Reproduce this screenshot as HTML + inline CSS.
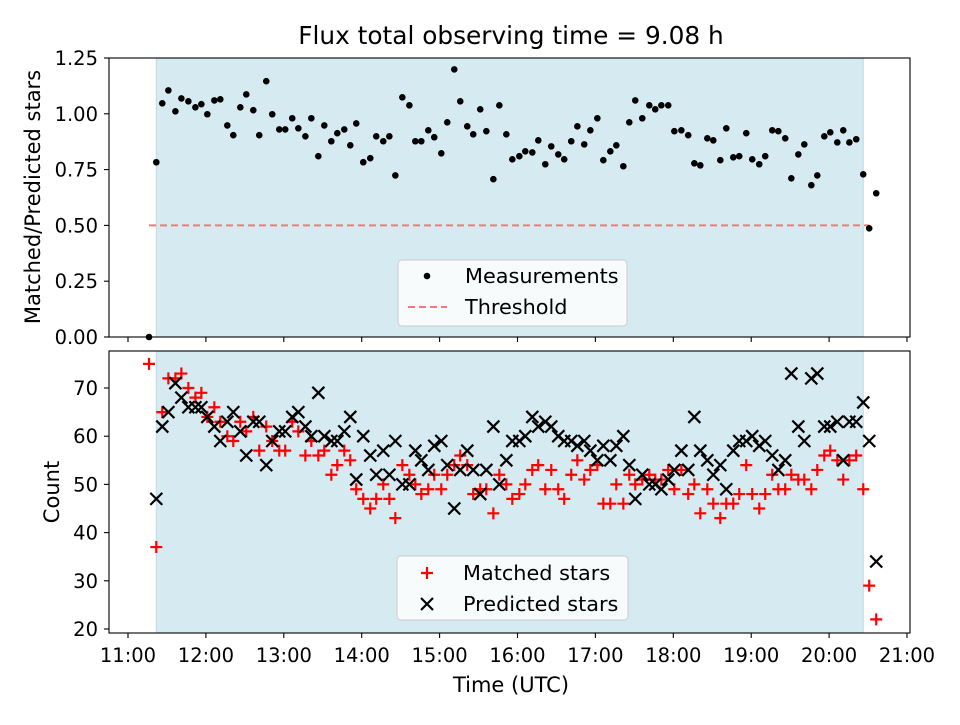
<!DOCTYPE html>
<html><head><meta charset="utf-8"><style>
body{margin:0;background:#fff;}
svg{font-family:"DejaVu Sans","Liberation Sans",sans-serif;}
</style></head><body>
<svg id="chart" width="960" height="720" viewBox="0 0 960 720" xmlns="http://www.w3.org/2000/svg"></svg>
<script>
const times=[16.2,21.8,26.4,31.1,36.5,41.1,46.5,51.9,56.5,61.1,66.5,71.1,76.5,81.1,86.5,91.1,96.5,101.1,106.5,111.1,116.5,121.1,126.5,131.2,136.6,141.2,146.6,151.2,156.6,161.2,166.6,171.2,175.8,181.2,186.6,191.2,196.6,201.3,205.9,211.3,216.7,221.3,225.9,231.3,235.9,241.3,245.9,251.3,255.9,261.3,265.9,271.3,276.0,281.4,286.0,291.4,296.0,301.4,306.0,311.4,316.0,321.4,326.0,331.4,336.0,341.4,346.1,351.4,356.1,361.5,366.1,371.5,376.1,381.5,386.1,390.7,396.1,401.5,406.1,410.8,416.1,420.8,426.2,431.5,436.2,440.8,446.2,450.8,456.2,460.8,466.2,470.8,476.2,480.8,486.2,490.8,496.2,500.9,506.2,510.9,516.3,520.9,526.3,530.9,536.3,540.9,546.3,550.9,555.6,560.9,566.3,570.9,576.3];
const ratio=[0,0.783,1.047,1.105,1.011,1.069,1.056,1.029,1.043,0.998,1.060,1.065,0.948,0.904,1.029,1.087,1.016,0.904,1.146,0.998,0.930,0.930,0.980,0.935,0.899,0.980,0.810,0.948,0.877,0.913,0.930,0.859,0.957,0.783,0.801,0.899,0.877,0.899,0.724,1.074,1.038,0.877,0.877,0.926,0.895,0.823,0.962,1.199,1.056,0.944,0.908,1.020,0.922,0.707,1.038,0.908,0.796,0.810,0.832,0.827,0.881,0.774,0.854,0.818,0.796,0.877,0.944,0.863,0.926,0.980,0.792,0.832,0.859,0.765,0.962,1.060,0.980,1.038,1.020,1.038,1.038,0.922,0.926,0.904,0.778,0.769,0.890,0.881,0.792,0.935,0.805,0.810,0.913,0.796,0.774,0.810,0.926,0.922,0.890,0.711,0.818,0.863,0.680,0.724,0.899,0.917,0.872,0.926,0.872,0.886,0.729,0.487,0.644];
const matched=[75,37,65,72,72,73,70,68,69,64,66,63,60,59,63,61,64,57,62,59,57,57,63,61,56,59,56,57,52,54,57,55,49,47,45,47,50,47,43,54,52,50,48,49,52,49,52,54,56,54,48,49,49,44,52,50,47,48,50,53,54,49,53,49,47,52,55,51,53,54,46,46,50,46,52,50,51,52,51,51,53,49,53,48,50,44,49,46,43,46,46,48,54,48,45,48,52,49,49,52,51,51,49,53,56,57,55,51,55,56,49,29,22];
const predicted=[null,47,62,65,71,68,66,66,66,64,62,59,63,65,61,56,63,63,54,59,61,61,64,65,62,60,69,60,59,59,61,64,51,60,56,52,57,52,59,50,50,57,55,53,58,59,54,45,53,57,53,48,53,62,50,55,59,59,60,64,62,63,62,60,59,59,58,59,57,55,58,55,58,60,54,47,52,50,50,49,51,53,57,53,64,57,55,52,54,49,57,59,59,60,58,59,56,53,55,73,62,59,72,73,62,62,63,55,63,63,67,59,34];
const topTicks=[0,0.25,0.5,0.75,1.0,1.25];
const botTicks=[20,30,40,50,60,70];
const xTickLabels=["11:00","12:00","13:00","14:00","15:00","16:00","17:00","18:00","19:00","20:00","21:00"];
const threshold=0.5;
const shadeStart=21.8, shadeEnd=566.3;

const svg=document.getElementById('chart');
const NS='http://www.w3.org/2000/svg';
const FS='19.5', LFS='21', GFS='20.8';
function mk(tag,attrs,parent){const e=document.createElementNS(NS,tag);for(const k in attrs)e.setAttribute(k,attrs[k]);(parent||svg).appendChild(e);return e;}
const L=109,R=910;
const xs=t=>128+(t)*(779/600);
const T={top:58,bot:337}, B={top:351,bot:633};
const yTop=v=>337-v*(279/1.25);
const yBot=v=>629-(v-20)*4.82;

let e=mk('text',{x:511,y:44,'text-anchor':'middle','font-size':'24.8'});e.textContent='Flux total observing time = 9.08 h';



function panel(p,name){
  const r=mk('rect',{x:L,y:p.top,width:R-L,height:p.bot-p.top,fill:'#fff'});
  
  
  const s=mk('rect',{x:xs(shadeStart),y:p.top,width:xs(shadeEnd)-xs(shadeStart),height:p.bot-p.top,fill:'#d5eaf1',stroke:'#b9dbe8','stroke-width':1});
  
  
}
panel(T,'top-panel');panel(B,'bottom-panel');

const th=mk('line',{x1:xs(times[0]),x2:xs(times[times.length-2]),y1:yTop(threshold),y2:yTop(threshold),stroke:'#f07a7a','stroke-width':2,'stroke-dasharray':'7,4'});



for(let i=0;i<times.length;i++){
  const c=mk('circle',{cx:xs(times[i]),cy:yTop(ratio[i]),r:3.3,fill:'#000'});
  
  
}
for(let i=0;i<times.length;i++){
  const x=xs(times[i]),y=yBot(matched[i]);
  const g=mk('path',{d:`M${x-6} ${y}H${x+6}M${x} ${y-6}V${y+6}`,stroke:'#f00','stroke-width':2.2,fill:'none'});
  
  
}
for(let i=0;i<times.length;i++){
  if(predicted[i]==null)continue;
  const x=xs(times[i]),y=yBot(predicted[i]);
  const g=mk('path',{d:`M${x-6} ${y-6}L${x+6} ${y+6}M${x-6} ${y+6}L${x+6} ${y-6}`,stroke:'#000','stroke-width':2.2,fill:'none'});
  
  
}

function frame(p,name){
  const f=mk('rect',{x:L,y:p.top,width:R-L,height:p.bot-p.top,fill:'none',stroke:'#000','stroke-width':1.1});
  
  
  xTickLabels.forEach((lab,i)=>{
    const x=xs(i*60);
    mk('line',{x1:x,x2:x,y1:p.bot,y2:p.bot+5,stroke:'#000','stroke-width':1.1});
  });
}
frame(T,'top-panel');frame(B,'bottom-panel');

topTicks.forEach(v=>{
  const y=yTop(v);
  mk('line',{x1:L-5,x2:L,y1:y,y2:y,stroke:'#000','stroke-width':1.1});
  const t=mk('text',{x:L-11,y:y+7,'text-anchor':'end','font-size':FS});t.textContent=v.toFixed(2);
  
  
});
botTicks.forEach(v=>{
  const y=yBot(v);
  mk('line',{x1:L-5,x2:L,y1:y,y2:y,stroke:'#000','stroke-width':1.1});
  const t=mk('text',{x:L-11,y:y+7,'text-anchor':'end','font-size':FS});t.textContent=v;
  
  
});
xTickLabels.forEach((lab,i)=>{
  const t=mk('text',{x:xs(i*60),y:B.bot+29,'text-anchor':'middle','font-size':FS});t.textContent=lab;
  
  
});
e=mk('text',{x:511,y:692,'text-anchor':'middle','font-size':LFS});e.textContent='Time (UTC)';


e=mk('text',{x:0,y:0,'text-anchor':'middle','font-size':LFS,transform:'translate(40,197) rotate(-90)'});e.textContent='Matched/Predicted stars';


e=mk('text',{x:0,y:0,'text-anchor':'middle','font-size':LFS,transform:'translate(59,492) rotate(-90)'});e.textContent='Count';



function legend(x,y,w,h,name){
  const r=mk('rect',{x:x,y:y,width:w,height:h,rx:4,fill:'rgba(255,255,255,0.8)',stroke:'#ccc','stroke-width':1});
  
  
}
legend(398,260,229,66,'top-legend');
let c=mk('circle',{cx:427,cy:276,r:3.3,fill:'#000'});


e=mk('text',{x:465,y:283,'font-size':GFS});e.textContent='Measurements';


c=mk('line',{x1:408,x2:447,y1:307,y2:307,stroke:'#f07a7a','stroke-width':2,'stroke-dasharray':'7,4'});


e=mk('text',{x:465,y:314,'font-size':GFS});e.textContent='Threshold';



legend(397,556,231,64,'bottom-legend');
c=mk('path',{d:'M421 573H433M427 567V579',stroke:'#f00','stroke-width':2.2});


e=mk('text',{x:463,y:580,'font-size':GFS});e.textContent='Matched stars';


c=mk('path',{d:'M421 598L433 610M421 610L433 598',stroke:'#000','stroke-width':2.2});


e=mk('text',{x:463,y:611,'font-size':GFS});e.textContent='Predicted stars';


</script>
</body></html>
